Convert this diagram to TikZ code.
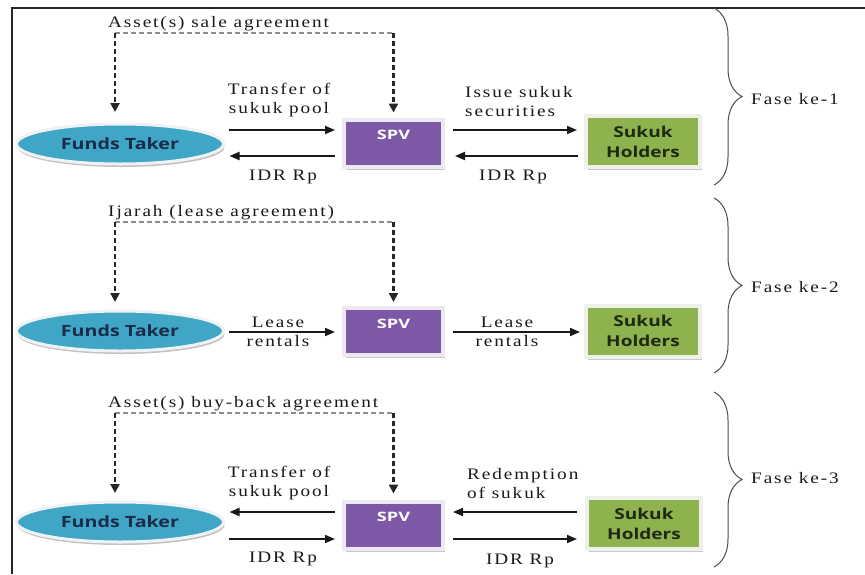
\documentclass[tikz,border=0pt]{standalone}
\usepackage{fontspec}
\setmainfont{Liberation Serif}
\newfontfamily\labfont[FakeStretch=1.2,LetterSpace=12]{Liberation Serif}
\newfontfamily\boxfont[FakeStretch=1.27]{Open Sans}
\newfontfamily\spvfont[FakeStretch=1.4]{Open Sans}
\usetikzlibrary{shapes.geometric,arrows.meta,decorations.pathreplacing,shadows,calc}
\definecolor{ftfill}{HTML}{3FA6C6}
\definecolor{ftring}{HTML}{EEF2F4}
\definecolor{fttext}{HTML}{1A2C4A}
\definecolor{spvfill}{HTML}{7D58A6}
\definecolor{spvring}{HTML}{EEE8F3}
\definecolor{shfill}{HTML}{8DB24E}
\definecolor{shring}{HTML}{EEF1E9}
\definecolor{shtext}{HTML}{1E2A12}
\begin{document}
\begin{tikzpicture}[x=1pt,y=-1pt,
 ftnode/.style={ellipse, minimum width=207pt, minimum height=40pt, inner sep=0pt, outer sep=0pt,
   fill=ftfill, draw=ftring, line width=3pt,
   drop shadow={shadow xshift=1pt,shadow yshift=-3pt,fill=black!30,opacity=0.8},
   font=\boxfont\bfseries\fontsize{15.5}{17}\selectfont, text=fttext},
 spvnode/.style={rectangle, minimum width=99pt, minimum height=47pt, inner sep=0pt, outer sep=0pt,
   fill=spvfill, draw=spvring, line width=4pt,
   drop shadow={shadow xshift=2pt,shadow yshift=-3pt,fill=black!30,opacity=0.7},
   font=\spvfont\bfseries\fontsize{13}{15}\selectfont, text=white, text height=8pt, text depth=15pt},
 shnode/.style={rectangle, minimum width=114pt, minimum height=51pt, inner sep=0pt, outer sep=0pt,
   fill=shfill, draw=shring, line width=4pt, align=center,
   drop shadow={shadow xshift=2pt,shadow yshift=-3pt,fill=black!30,opacity=0.7},
   font=\boxfont\bfseries\fontsize{15}{20}\selectfont, text=shtext},
 lab/.style={font=\labfont\fontsize{16}{19}\selectfont, inner sep=0pt, align=center, text=black!90},
 arr/.style={line width=1.8pt, black!90, -{Triangle[length=10pt,width=8pt]}},
 dv/.style={line width=2.6pt, black!85, dash pattern=on 5pt off 3pt, -{Triangle[length=9pt,width=9pt]}},
 dh/.style={line width=1.5pt, black!45, dash pattern=on 5pt off 3pt},
 brc/.style={decorate, decoration={brace, amplitude=28pt}, line width=1pt, black!70},
]
\useasboundingbox (0,0) rectangle (865,574);
\fill[white] (0,0) rectangle (865,574);
\draw[line width=1.2pt, black!85] (12,574) -- (12,8) -- (865,8);

% ---------- Phase 1 ----------
\node[ftnode] (ft1) at (120,144) {Funds Taker};
\node[spvnode] (spv1) at (393.5,143) {SPV};
\node[shnode] (sh1) at (643,141.5) {Sukuk\\Holders};
\coordinate (r1a) at (0,130);
\coordinate (r1b) at (0,156);
\coordinate (d1l) at (115,33);
\coordinate (d1r) at (393.5,33);
\node[lab, anchor=west] (L1) at (108,24) {Asset(s) sale agreement};
\node[lab] (tr1) at (279,100) {Transfer of\\sukuk pool};
\node[lab] (idr1a) at (283,177) {IDR Rp};
\node[lab, align=left, anchor=west] (iss1) at (465,102) {Issue sukuk\\securities};
\node[lab] (idr1b) at (513,177) {IDR Rp};
\draw[dh] (d1l) -- (d1r);
\draw[dv, shorten >=12pt] (d1l) -- (d1l |- ft1.north);
\draw[dv, shorten >=7pt] (d1r) -- (spv1.north);
\draw[arr, shorten <=5pt, shorten >=9pt] (ft1.east |- r1a) -- (spv1.west |- r1a);
\draw[arr, shorten <=9pt, shorten >=6pt] (spv1.west |- r1b) -- (ft1.east |- r1b);
\draw[arr, shorten <=10pt, shorten >=9pt] (spv1.east |- r1a) -- (sh1.west |- r1a);
\draw[arr, shorten <=8pt, shorten >=12pt] (sh1.west |- r1b) -- (spv1.east |- r1b);
\draw[brc] (714,8) -- (714,185);
\node[lab, anchor=west] (f1) at (751,99) {Fase ke-1};

% ---------- Phase 2 ----------
\node[ftnode] (ft2) at (120,331) {Funds Taker};
\node[spvnode] (spv2) at (393.5,331.5) {SPV};
\node[shnode] (sh2) at (643,331) {Sukuk\\Holders};
\coordinate (r2) at (0,332);
\coordinate (d2l) at (115,222);
\coordinate (d2r) at (393.5,222);
\node[lab, anchor=west] (L2) at (108,213) {Ijarah (lease agreement)};
\node[lab] (lr1) at (278,332) {Lease\\rentals};
\node[lab] (lr2) at (507,332) {Lease\\rentals};
\draw[dh] (d2l) -- (d2r);
\draw[dv, shorten >=9pt] (d2l) -- (d2l |- ft2.north);
\draw[dv, shorten >=6pt] (d2r) -- (spv2.north);
\draw[arr, shorten <=5pt, shorten >=9pt] (ft2.east |- r2) -- (spv2.west |- r2);
\draw[arr, shorten <=10pt, shorten >=6pt] (spv2.east |- r2) -- (sh2.west |- r2);
\draw[brc] (714,198) -- (714,373);
\node[lab, anchor=west] (f2) at (751,287) {Fase ke-2};

% ---------- Phase 3 ----------
\node[ftnode] (ft3) at (120,522) {Funds Taker};
\node[spvnode] (spv3) at (393.5,525) {SPV};
\node[shnode] (sh3) at (644,523.5) {Sukuk\\Holders};
\coordinate (r3a) at (0,512);
\coordinate (r3b) at (0,539);
\coordinate (d3l) at (115,413);
\coordinate (d3r) at (393.5,413);
\node[lab, anchor=west] (L3) at (108,404) {Asset(s) buy-back agreement};
\node[lab] (tr3) at (279,483) {Transfer of\\sukuk pool};
\node[lab] (idr3a) at (283,559) {IDR Rp};
\node[lab, align=left, anchor=west] (red3) at (467,484) {Redemption\\of sukuk};
\node[lab] (idr3b) at (520,561) {IDR Rp};
\draw[dh] (d3l) -- (d3r);
\draw[dv, shorten >=9pt] (d3l) -- (d3l |- ft3.north);
\draw[dv, shorten >=8pt] (d3r) -- (spv3.north);
\draw[arr, shorten <=9pt, shorten >=6pt] (spv3.west |- r3a) -- (ft3.east |- r3a);
\draw[arr, shorten <=5pt, shorten >=9pt] (ft3.east |- r3b) -- (spv3.west |- r3b);
\draw[arr, shorten <=10pt, shorten >=10pt] (sh3.west |- r3a) -- (spv3.east |- r3a);
\draw[arr, shorten <=10pt, shorten >=10pt] (spv3.east |- r3b) -- (sh3.west |- r3b);
\draw[brc] (714,392) -- (714,567);
\node[lab, anchor=west] (f3) at (751,478) {Fase ke-3};
\end{tikzpicture}
\end{document}
